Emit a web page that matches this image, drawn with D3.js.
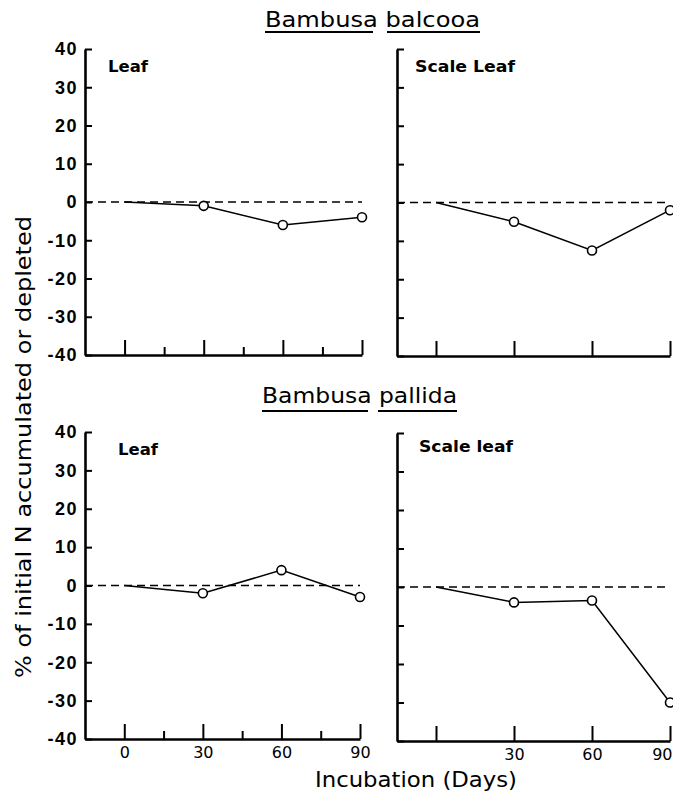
<!DOCTYPE html>
<html>
<head>
<meta charset="utf-8">
<script src="https://cdn.jsdelivr.net/npm/d3@7"></script>
<style>
  html, body { margin: 0; padding: 0; background: #fff; }
  svg { display: block; }
  text { font-family: "DejaVu Sans", sans-serif; fill: #000; }
</style>
</head>
<body>
<svg id="chart" width="673" height="794"></svg>
<script>
// incubation days and % of initial N accumulated (+) or depleted (-)
const days = [0, 30, 60, 90];
const balcooaLeaf = [0, -1, -6, -4];
const balcooaScale = [0, -5, -12.5, -2];
const pallidaLeaf = [0, -2, 4, -3];
const pallidaScale = [0, -4, -3.5, -30];

const yTicks = [40, 30, 20, 10, 0, -10, -20, -30, -40];
const majorDays = [0, 30, 60, 90];
const minorDays = [15, 45, 75];

const titles = ["Bambusa balcooa", "Bambusa pallida"];

const svg = d3.select("#chart");

// panels: left column has y labels and minor ticks
const panels = [
    {values: balcooaLeaf, label: "Leaf", x0: 85, x1: 362, y0: 49, y1: 355, yLabels: true, minor: true, xLabels: null, lx: 108, ly: 72},
    {values: balcooaScale, label: "Scale Leaf", x0: 397, x1: 670, y0: 49, y1: 356, yLabels: false, minor: false, xLabels: null, lx: 415, ly: 72},
    {values: pallidaLeaf, label: "Leaf", x0: 85, x1: 360, y0: 432, y1: 739, yLabels: true, minor: true, xLabels: [0, 30, 60, 90], lx: 118, ly: 455},
    {values: pallidaScale, label: "Scale leaf", x0: 397, x1: 670, y0: 433, y1: 741, yLabels: false, minor: false, xLabels: [30, 60, 90], lx: 419, ly: 452}
];

panels.forEach(p => {
    const x = d3.scaleLinear().domain([-15, 90]).range([p.x0, p.x1]);
    const y = d3.scaleLinear().domain([-40, 40]).range([p.y1, p.y0]);
    const g = svg.append("g");

    // zero reference
    g.append("line")
        .attr("x1", x(-15)).attr("x2", x(90))
        .attr("y1", y(0)).attr("y2", y(0))
        .attr("stroke", "#000")
        .attr("stroke-width", 1.6)
        .attr("stroke-dasharray", "8,5");

    // y axis, ticks pointing inward
    const yAxis = d3.axisLeft(y)
        .tickValues(yTicks)
        .tickSizeInner(-7)
        .tickSizeOuter(0)
        .tickPadding(7)
        .tickFormat(p.yLabels ? (d => String(d)) : "");
    const ya = g.append("g")
        .attr("transform", `translate(${p.x0},0)`)
        .call(yAxis);
    ya.select(".domain").attr("stroke-width", 2.6);
    ya.selectAll(".tick line").attr("stroke-width", 2);
    ya.selectAll(".tick text")
        .style("font-family", "'Liberation Sans', sans-serif")
        .style("font-weight", "bold")
        .style("font-size", "18px")
        .attr("letter-spacing", "1.5");

    // x axis major ticks
    const xAxis = d3.axisBottom(x)
        .tickValues(majorDays)
        .tickSizeInner(-15)
        .tickSizeOuter(0)
        .tickPadding(8)
        .tickFormat(d => (p.xLabels && p.xLabels.includes(d)) ? d : "");
    const xa = g.append("g")
        .attr("transform", `translate(0,${p.y1})`)
        .call(xAxis);
    xa.select(".domain").attr("stroke-width", 2.6);
    xa.selectAll(".tick line").attr("stroke-width", 2);
    xa.selectAll(".tick text")
        .style("font-family", "'DejaVu Sans', sans-serif")
        .style("font-size", "16px");
    // keep the last label inside the page
    xa.selectAll(".tick text")
        .filter(d => x(d) > 660)
        .attr("text-anchor", "end")
        .attr("x", 673 - x(90) - 1);

    if (p.minor) {
        const mAxis = d3.axisBottom(x)
            .tickValues(minorDays)
            .tickSizeInner(-8)
            .tickSizeOuter(0)
            .tickFormat("");
        const ma = g.append("g")
            .attr("transform", `translate(0,${p.y1})`)
            .call(mAxis);
        ma.select(".domain").remove();
        ma.selectAll(".tick line").attr("stroke-width", 2);
    }

    const pts = days.map((d, i) => [d, p.values[i]]);
    const line = d3.line().x(d => x(d[0])).y(d => y(d[1]));
    g.append("path")
        .datum(pts)
        .attr("d", line)
        .attr("fill", "none")
        .attr("stroke", "#000")
        .attr("stroke-width", 1.5);

    g.selectAll("circle")
        .data(pts.slice(1))
        .join("circle")
        .attr("cx", d => x(d[0]))
        .attr("cy", d => y(d[1]))
        .attr("r", 4.5)
        .attr("fill", "#fff")
        .attr("stroke", "#000")
        .attr("stroke-width", 1.6);

    g.append("text")
        .attr("x", p.lx)
        .attr("y", p.ly)
        .style("font-size", "16px")
        .style("font-weight", "bold")
        .attr("textLength", p.label === "Leaf" ? 40 : (p.label === "Scale Leaf" ? 100 : 94))
        .attr("lengthAdjust", "spacingAndGlyphs")
        .text(p.label);
});

// species titles, each word underlined
const titleLayout = [
    {x: 265, y: 27, len: 215, uy: 32, seg: [[265, 373], [387, 480]]},
    {x: 262, y: 403, len: 195, uy: 411, seg: [[262, 368], [378, 457]]}
];
titles.forEach((t, i) => {
    const L = titleLayout[i];
    svg.append("text")
        .attr("x", L.x)
        .attr("y", L.y)
        .style("font-size", "21px")
        .attr("textLength", L.len)
        .attr("lengthAdjust", "spacingAndGlyphs")
        .text(t);
    L.seg.forEach(s => {
        svg.append("line")
            .attr("x1", s[0]).attr("x2", s[1])
            .attr("y1", L.uy).attr("y2", L.uy)
            .attr("stroke", "#000").attr("stroke-width", 2);
    });
});

// axis titles
svg.append("text")
    .attr("transform", "translate(31,447) rotate(-90)")
    .attr("text-anchor", "middle")
    .style("font-size", "21px")
    .attr("textLength", 462)
    .attr("lengthAdjust", "spacingAndGlyphs")
    .text("% of initial N accumulated or depleted");

svg.append("text")
    .attr("x", 416)
    .attr("y", 787)
    .attr("text-anchor", "middle")
    .style("font-size", "21px")
    .attr("textLength", 202)
    .attr("lengthAdjust", "spacingAndGlyphs")
    .text("Incubation (Days)");
</script>
</body>
</html>
